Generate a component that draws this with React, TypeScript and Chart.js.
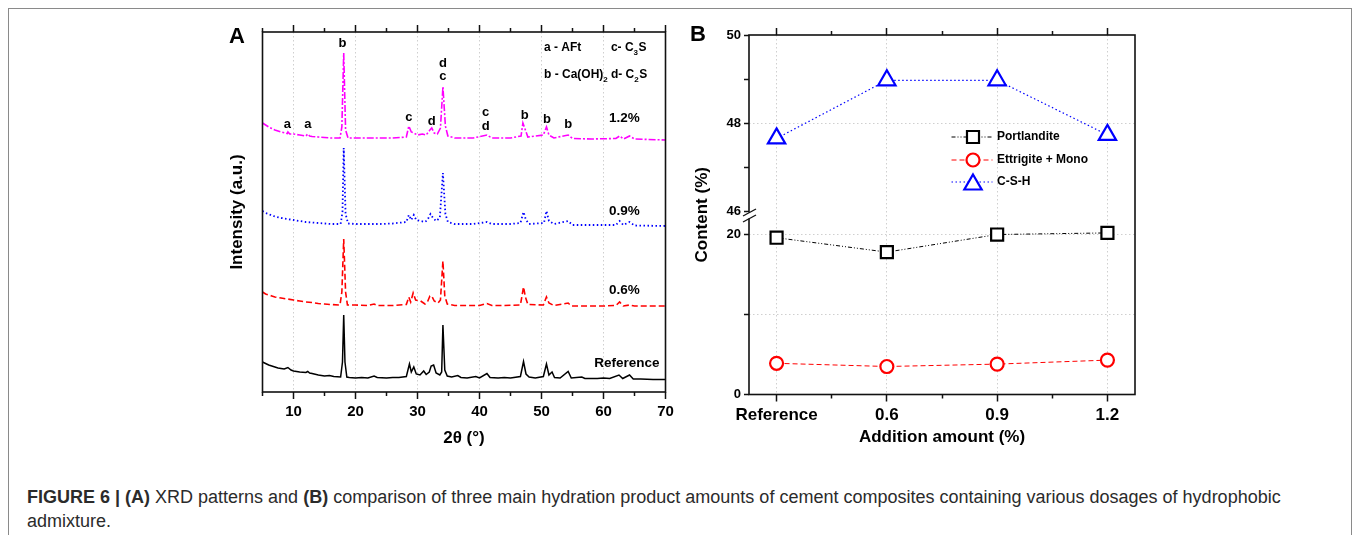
import React, { useEffect, useRef } from 'react';
import { Chart, registerables } from 'chart.js';

Chart.register(...registerables);

const FONT = "'Liberation Sans', Arial, Helvetica, sans-serif";

// ---------------- Panel A : XRD patterns ----------------
const XRD_MAJOR_TICKS = [10, 20, 30, 40, 50, 60, 70];
const XRD_MINOR_TICKS = [5, 15, 25, 35, 45, 55, 65];

// [2θ, intensity (a.u.)]
const PATTERN_REFERENCE: number[][] = [
  [5, 30], [5.5, 28.5], [6, 27], [6.5, 26], [7, 25], [7.5, 24], [8, 23.5], [8.5, 23], [9.1, 24.5], [9.6, 22],
  [10, 21], [11, 20], [12, 19.5], [12.3, 20.5], [12.6, 19], [13, 18.5], [14, 17], [15, 16], [15.8, 16.5], [16.5, 15.5],
  [17.6, 15], [17.9, 30], [18.1, 77], [18.3, 30], [18.6, 15], [19, 14.5], [20, 14], [21, 14.5], [22, 14], [23, 16],
  [23.5, 14.5], [25, 14], [26, 14.5], [27, 14.5], [28.2, 15.5], [28.7, 28], [29.0, 20], [29.4, 25], [29.8, 18], [30.4, 17],
  [31.0, 21], [31.4, 17.5], [31.9, 20], [32.2, 26], [32.6, 27], [33.0, 19], [33.6, 17], [33.9, 20], [34.1, 67], [34.4, 22],
  [34.8, 16], [35.5, 15], [36.5, 16.5], [37, 14.5], [38, 14], [39.4, 15.5], [40, 14], [41.2, 18.5], [41.7, 14.5], [43, 14],
  [44, 14.5], [45, 14], [46.6, 15.5], [47.1, 30.5], [47.5, 18], [48, 15], [49, 14], [50.3, 15.5], [50.8, 28], [51.2, 17],
  [51.7, 20], [52.1, 14.5], [53, 14], [54.3, 20.5], [54.8, 14], [56.5, 15], [57, 13.5], [59, 13.5], [60, 14], [61, 13.5],
  [62.5, 17], [63.1, 13.5], [64.2, 17], [64.8, 13], [66, 13], [68, 12.5], [70, 12.5],
];

const PATTERN_06: number[][] = [
  [5, 100], [5.5, 98], [6, 97], [6.5, 96], [7, 95], [8, 94], [9, 93], [10, 92], [11, 91], [12, 90],
  [13, 89.5], [14, 88.5], [15, 88], [16, 87.5], [17.5, 87], [17.8, 100], [18.1, 153], [18.4, 100], [18.7, 87], [20, 87],
  [22, 86.5], [23, 88], [23.5, 86.5], [26, 86.5], [28.2, 87.5], [28.6, 95], [28.9, 90], [29.3, 99], [29.7, 92], [30.5, 91],
  [31.2, 88], [31.6, 90], [32.0, 96], [32.3, 96], [32.7, 91], [33.3, 89], [33.7, 92], [34.1, 131], [34.4, 96], [34.8, 88],
  [36, 86.5], [38, 86.5], [40, 86.5], [41.2, 88.5], [42, 86.5], [44, 86.5], [46.6, 87], [47.1, 105], [47.4, 95], [47.8, 87.5],
  [50.3, 87], [50.8, 95], [51.2, 89], [52, 86.5], [54.3, 89], [54.8, 86], [58, 86], [60, 86], [62.0, 86.5], [62.6, 90],
  [63.2, 86], [64.2, 87], [65, 86], [70, 86],
];

const PATTERN_09: number[][] = [
  [5, 181], [5.5, 179], [6, 178], [6.5, 176.5], [7, 175.5], [8, 174], [9, 173], [10, 172], [11, 171], [12, 170],
  [13, 169.5], [14, 169], [15, 168.5], [16, 168], [17.6, 168], [17.9, 180], [18.1, 244], [18.4, 178], [18.8, 168.5], [20, 168],
  [22, 168], [24, 168], [26, 168.5], [28.2, 170], [28.6, 177], [29.0, 172], [29.4, 177], [29.8, 172], [30.5, 171], [31.2, 170],
  [31.6, 172], [32.1, 178], [32.5, 174], [33.0, 171], [33.6, 174], [34.1, 219], [34.5, 178], [34.9, 170], [36, 168], [39, 168],
  [41.2, 170], [42, 168], [45, 168], [46.6, 169], [47.1, 180], [47.5, 172], [48, 168], [50.4, 169], [50.8, 181], [51.2, 171],
  [52, 168], [54.3, 171], [55, 167], [58, 167], [62.0, 167], [62.6, 171], [63.2, 167], [64.2, 170], [65, 166.5], [70, 166],
];

const PATTERN_12: number[][] = [
  [5, 269], [5.5, 267], [6, 265], [6.5, 263.5], [7, 262], [8, 260], [9, 258.5], [9.1, 260], [9.4, 258], [10, 258],
  [11, 257], [12, 256], [12.3, 258], [12.6, 256], [13, 255.5], [14, 255], [15, 254.5], [16, 254], [17.5, 254], [17.8, 265],
  [18.1, 339], [18.4, 262], [18.8, 254], [20, 254], [22, 254], [24, 254], [26, 254], [28.2, 255], [28.6, 266], [29.0, 260],
  [29.4, 259], [30, 257], [30.8, 258], [31.4, 257], [32.0, 262], [32.3, 264], [32.7, 259], [33.2, 258], [33.7, 264], [34.1, 305],
  [34.5, 266], [34.9, 256], [36, 254], [39, 254], [41.2, 257], [42, 254], [45, 254], [46.7, 256], [47.0, 269], [47.4, 262],
  [47.8, 255], [50.3, 257], [50.8, 265], [51.2, 257], [52, 254], [54.3, 257], [55, 253.5], [58, 253], [62.0, 253.5], [62.6, 256],
  [63.2, 253], [64.2, 256], [65, 253], [70, 252],
];

// phase letters placed at [2θ, a.u.]
const PEAK_LETTERS: [string, number, number][] = [
  ['a', 9.0, 268], ['a', 12.3, 268], ['b', 17.9, 349], ['c', 28.6, 275], ['d', 32.3, 271],
  ['d', 34.1, 329], ['c', 34.1, 316], ['c', 41.0, 280], ['d', 41.0, 266],
  ['b', 47.3, 277], ['b', 50.9, 273], ['b', 54.3, 268],
];

// phase key: text parts [text, isSubscript]
const PHASE_KEY: { parts: [string, boolean][]; x: number; y: number }[] = [
  { parts: [['a - AFt', false]], x: 50.4, y: 344 },
  { parts: [['c- C', false], ['3', true], ['S', false]], x: 61.2, y: 344 },
  { parts: [['b - Ca(OH)', false], ['2', true]], x: 50.4, y: 317 },
  { parts: [['d- C', false], ['2', true], ['S', false]], x: 61.2, y: 317 },
];

const PATTERN_NAMES: [string, number, number][] = [
  ['1.2%', 60.9, 274], ['0.9%', 60.9, 181], ['0.6%', 60.9, 102], ['Reference', 58.5, 29],
];

// ---------------- Panel B : hydration products ----------------
const DOSAGES = ['Reference', '0.6', '0.9', '1.2'];
const PORTLANDITE = [19.6, 17.8, 20.0, 20.2];
const ETTRINGITE_MONO = [3.9, 3.5, 3.8, 4.3];
const CSH = [47.65, 48.97, 48.97, 47.73];

const B_X_MAJOR = [0, 1, 2, 3];
const B_X_MINOR = [0.5, 1.5, 2.5];
const B_UPPER_TICKS = [46, 47, 48, 49, 50];
const B_UPPER_LABELED = [46, 48, 50];
const B_LOWER_TICKS = [0, 10, 20];
const B_LOWER_LABELED = [0, 20];

const GRID = '#cfcfcf';
const NONE = 'rgba(0,0,0,0)';

const setTicks = (vals: number[]) => (s: any) => {
  s.ticks = vals.map((v) => ({ value: v }));
};

const tickOnlyAxis = (position: string, min: number, max: number, vals: number[], weight: number, len: number, size: number) => ({
  type: 'linear',
  position,
  min,
  max,
  weight,
  afterBuildTicks: setTicks(vals),
  afterFit: (s: any) => {
    if (position === 'top' || position === 'bottom') s.height = size;
    else s.width = size;
  },
  ticks: { display: false },
  grid: { drawOnChartArea: false, tickLength: len, tickColor: '#111', tickWidth: 1.5 },
  border: { display: false },
});

const framePlugin = {
  id: 'frame',
  afterDraw(chart: any) {
    const { ctx, chartArea } = chart;
    const { left, top, right, bottom } = chartArea;
    ctx.save();
    ctx.strokeStyle = '#111';
    ctx.lineWidth = 1.6;
    ctx.strokeRect(left, top, right - left, bottom - top);
    ctx.restore();
  },
};

const xrdTextPlugin = {
  id: 'xrdText',
  afterDraw(chart: any) {
    const { ctx } = chart;
    const x = chart.scales.x;
    const y = chart.scales.y;
    ctx.save();
    ctx.fillStyle = '#000';
    ctx.textBaseline = 'middle';
    ctx.textAlign = 'center';
    ctx.font = `bold 13px ${FONT}`;
    PEAK_LETTERS.forEach(([t, vx, vy]) => ctx.fillText(t, x.getPixelForValue(vx), y.getPixelForValue(vy)));
    ctx.textAlign = 'left';
    PHASE_KEY.forEach((k) => {
      let px = x.getPixelForValue(k.x);
      const py = y.getPixelForValue(k.y);
      k.parts.forEach(([t, sub]) => {
        ctx.font = sub ? `bold 8px ${FONT}` : `bold 12px ${FONT}`;
        ctx.fillText(t, px, sub ? py + 5 : py);
        px += ctx.measureText(t).width + (sub ? 0.5 : 0);
      });
    });
    ctx.font = `bold 13.5px ${FONT}`;
    PATTERN_NAMES.forEach(([t, vx, vy]) => ctx.fillText(t, x.getPixelForValue(vx), y.getPixelForValue(vy)));
    ctx.font = `bold 22px ${FONT}`;
    ctx.textAlign = 'center';
    ctx.fillText('A', chart.chartArea.left - 25.5, chart.chartArea.top + 5);
    ctx.restore();
  },
};

const productsPlugin = {
  id: 'products',
  afterDraw(chart: any) {
    const { ctx, chartArea } = chart;
    const upper = chart.scales.yUpper;
    const axisX = chartArea.left;
    ctx.save();
    // axis break
    const yb = upper.bottom;
    ctx.fillStyle = '#fff';
    ctx.fillRect(axisX - 2, yb + 1.5, 4, 6);
    ctx.strokeStyle = '#111';
    ctx.lineWidth = 1.3;
    [yb + 1.5, yb + 7.5].forEach((yy) => {
      ctx.beginPath();
      ctx.moveTo(axisX - 6, yy + 3.5);
      ctx.lineTo(axisX + 7, yy - 3.5);
      ctx.stroke();
    });
    // legend
    const lx0 = chartArea.left + 202.5;
    const lx1 = chartArea.left + 243.5;
    const mx = chartArea.left + 224;
    const tx = chartArea.left + 248;
    const rows = [102, 125, 147];
    chart.data.datasets.forEach((ds: any, i: number) => {
      const yy = chartArea.top + rows[i];
      ctx.strokeStyle = ds.borderColor;
      ctx.lineWidth = ds.borderWidth;
      ctx.setLineDash(ds.borderDash || []);
      ctx.beginPath();
      ctx.moveTo(lx0, yy);
      ctx.lineTo(lx1, yy);
      ctx.stroke();
      ctx.setLineDash([]);
      ctx.lineWidth = ds.pointBorderWidth;
      ctx.fillStyle = '#fff';
      const r = ds.pointRadius;
      ctx.beginPath();
      if (ds.pointStyle === 'rect') {
        const h = r * Math.SQRT1_2;
        ctx.rect(mx - h, yy - h, 2 * h, 2 * h);
      } else if (ds.pointStyle === 'circle') {
        ctx.arc(mx, yy, r, 0, Math.PI * 2);
      } else {
        const c = yy + r * 0.25;
        ctx.moveTo(mx, c - r);
        ctx.lineTo(mx + r * Math.sin(Math.PI / 3), c + r / 2);
        ctx.lineTo(mx - r * Math.sin(Math.PI / 3), c + r / 2);
        ctx.closePath();
      }
      ctx.fill();
      ctx.stroke();
      ctx.fillStyle = '#000';
      ctx.font = `bold 12px ${FONT}`;
      ctx.textAlign = 'left';
      ctx.textBaseline = 'middle';
      ctx.fillText(ds.label, tx, yy);
    });
    // y title
    ctx.save();
    ctx.translate(chartArea.left - 47, (chartArea.top + chartArea.bottom) / 2);
    ctx.rotate(-Math.PI / 2);
    ctx.font = `bold 17px ${FONT}`;
    ctx.textAlign = 'center';
    ctx.textBaseline = 'middle';
    ctx.fillText('Content (%)', 0, 0);
    ctx.restore();
    // panel letter
    ctx.font = `bold 22px ${FONT}`;
    ctx.textAlign = 'center';
    ctx.textBaseline = 'middle';
    ctx.fillStyle = '#000';
    ctx.fillText('B', chartArea.left - 51, chartArea.top);
    ctx.restore();
  },
};

function XrdChart() {
  const ref = useRef<HTMLCanvasElement>(null);
  useEffect(() => {
    if (!ref.current) return;
    const mk = (d: number[][]) => d.map(([x, y]) => ({ x, y }));
    const chart = new Chart(ref.current, {
      type: 'line',
      data: {
        datasets: [
          { label: 'Reference', data: mk(PATTERN_REFERENCE), borderColor: '#000000', borderWidth: 1.5, pointRadius: 0 },
          { label: '0.6%', data: mk(PATTERN_06), borderColor: '#ff0000', borderWidth: 1.6, borderDash: [6, 3], pointRadius: 0 },
          { label: '0.9%', data: mk(PATTERN_09), borderColor: '#0000ff', borderWidth: 1.8, borderDash: [1.5, 2.5], pointRadius: 0 },
          { label: '1.2%', data: mk(PATTERN_12), borderColor: '#ff00ff', borderWidth: 1.6, borderDash: [7, 2, 2, 2], pointRadius: 0 },
        ],
      } as any,
      options: {
        animation: false,
        responsive: false,
        events: [],
        layout: { padding: { left: 0, right: 24.5, top: 24, bottom: 0 } },
        plugins: { legend: { display: false }, tooltip: { enabled: false } },
        elements: { line: { tension: 0 } },
        scales: {
          x: {
            type: 'linear',
            position: 'bottom',
            min: 5,
            max: 70,
            weight: 1,
            afterBuildTicks: setTicks(XRD_MAJOR_TICKS),
            afterFit: (s: any) => { s.height = 68; },
            ticks: { font: { family: FONT, size: 15, weight: 'bold' }, color: '#000', padding: 4, maxRotation: 0, autoSkip: false },
            grid: {
              color: (c: any) => (c.tick && c.tick.value < 70 ? GRID : NONE),
              lineWidth: 1,
              tickLength: 7,
              tickColor: '#111',
              tickWidth: 1.5,
            },
            border: { display: false, dash: [1.5, 2.5] },
            title: { display: true, text: '2θ (°)', color: '#000', font: { family: FONT, size: 17, weight: 'bold' }, padding: { top: 0, bottom: 11 } },
          },
          xMinor: tickOnlyAxis('bottom', 5, 70, XRD_MINOR_TICKS, 0, 4, 0),
          xTop: tickOnlyAxis('top', 5, 70, XRD_MAJOR_TICKS, 1, 7, 8),
          xTopMinor: tickOnlyAxis('top', 5, 70, XRD_MINOR_TICKS, 0, 4, 0),
          y: {
            type: 'linear',
            position: 'left',
            min: 0,
            max: 360,
            afterFit: (s: any) => { s.width = 52.5; },
            ticks: { display: false },
            grid: { display: false },
            border: { display: false },
            title: { display: true, text: 'Intensity (a.u.)', color: '#000', font: { family: FONT, size: 17, weight: 'bold' }, padding: { top: 16.8, bottom: 0 } },
          },
        },
      } as any,
      plugins: [framePlugin, xrdTextPlugin],
    });
    return () => chart.destroy();
  }, []);
  return <canvas ref={ref} width={480} height={460} style={{ position: 'absolute', left: 210, top: 0, width: 480, height: 460 }} />;
}

function ProductsChart() {
  const ref = useRef<HTMLCanvasElement>(null);
  useEffect(() => {
    if (!ref.current) return;
    const mk = (d: number[]) => d.map((y, i) => ({ x: i, y }));
    const chart = new Chart(ref.current, {
      type: 'line',
      data: {
        datasets: [
          { label: 'Portlandite', data: mk(PORTLANDITE), yAxisID: 'yLower', borderColor: '#000000', borderWidth: 1, borderDash: [4, 2, 1, 2, 1, 2],
            pointStyle: 'rect', pointRadius: 8.5, pointBorderWidth: 2.2, pointBackgroundColor: '#fff', pointBorderColor: '#000' },
          { label: 'Ettrigite + Mono', data: mk(ETTRINGITE_MONO), yAxisID: 'yLower', borderColor: '#ff0000', borderWidth: 1, borderDash: [5, 3],
            pointStyle: 'circle', pointRadius: 6.5, pointBorderWidth: 2.2, pointBackgroundColor: '#fff', pointBorderColor: '#ff0000' },
          { label: 'C-S-H', data: mk(CSH), yAxisID: 'yUpper', borderColor: '#0000ff', borderWidth: 1.2, borderDash: [1.5, 2.5],
            pointStyle: 'triangle', pointRadius: 10, pointBorderWidth: 2.2, pointBackgroundColor: '#fff', pointBorderColor: '#0000ff' },
        ],
      } as any,
      options: {
        animation: false,
        responsive: false,
        events: [],
        layout: { padding: { left: 0, right: 25, top: 27, bottom: 0 } },
        plugins: { legend: { display: false }, tooltip: { enabled: false } },
        elements: { line: { tension: 0 } },
        scales: {
          x: {
            type: 'linear',
            position: 'bottom',
            min: -0.25,
            max: 3.25,
            weight: 1,
            afterBuildTicks: setTicks(B_X_MAJOR),
            afterFit: (s: any) => { s.height = 65.5; },
            ticks: {
              font: { family: FONT, size: 17, weight: 'bold' }, color: '#000', padding: 4, maxRotation: 0, autoSkip: false,
              callback: (v: any) => DOSAGES[Math.round(v)] ?? '',
            },
            grid: { color: GRID, lineWidth: 1, tickLength: 7, tickColor: '#111', tickWidth: 1.5 },
            border: { display: false, dash: [1.5, 2.5] },
            title: { display: true, text: 'Addition amount (%)', color: '#000', font: { family: FONT, size: 17, weight: 'bold' }, padding: { top: 0, bottom: 12.8 } },
          },
          xMinor: tickOnlyAxis('bottom', -0.25, 3.25, B_X_MINOR, 0, 4, 0),
          xTop: tickOnlyAxis('top', -0.25, 3.25, B_X_MAJOR, 1, 7, 8),
          xTopMinor: tickOnlyAxis('top', -0.25, 3.25, B_X_MINOR, 0, 4, 0),
          yLower: {
            type: 'linear',
            position: 'left',
            stack: 'content',
            stackWeight: 183.5,
            min: 0,
            max: 22.94,
            afterBuildTicks: setTicks(B_LOWER_TICKS),
            afterFit: (s: any) => { s.width = 69; },
            ticks: {
              font: { family: FONT, size: 13, weight: 'bold' }, color: '#000', padding: 3,
              callback: (v: any) => (B_LOWER_LABELED.includes(v) ? String(v) : ''),
            },
            grid: { color: (c: any) => (c.tick && c.tick.value > 0 ? GRID : NONE), lineWidth: 1, tickLength: 5, tickColor: '#111', tickWidth: 1.5 },
            border: { display: false, dash: [1.5, 2.5] },
          },
          yUpper: {
            type: 'linear',
            position: 'left',
            stack: 'content',
            stackWeight: 176,
            min: 46,
            max: 50,
            afterBuildTicks: setTicks(B_UPPER_TICKS),
            afterFit: (s: any) => { s.width = 69; },
            ticks: {
              font: { family: FONT, size: 13, weight: 'bold' }, color: '#000', padding: 3,
              callback: (v: any) => (B_UPPER_LABELED.includes(v) ? String(v) : ''),
            },
            grid: { color: (c: any) => (c.tick && c.tick.value === 48 ? GRID : NONE), lineWidth: 1, tickLength: 5, tickColor: '#111', tickWidth: 1.5 },
            border: { display: false, dash: [1.5, 2.5] },
          },
        },
      } as any,
      plugins: [framePlugin, productsPlugin],
    });
    return () => chart.destroy();
  }, []);
  return <canvas ref={ref} width={480} height={460} style={{ position: 'absolute', left: 680, top: 0, width: 480, height: 460 }} />;
}

export default function App() {
  return (
    <div style={{ position: 'absolute', left: 0, top: 0, width: 1355, height: 535, overflow: 'hidden', background: '#fff' }}>
      <div style={{ position: 'absolute', left: 8, top: 8, width: 1342, height: 540, border: '1px solid #8a8a8a' }} />
      <XrdChart />
      <ProductsChart />
      <div style={{ position: 'absolute', left: 27, top: 485, fontFamily: FONT, fontSize: 18, lineHeight: '24px', color: '#2b2b2b', whiteSpace: 'nowrap' }}>
        <b>FIGURE 6 | (A)</b> XRD patterns and <b>(B)</b> comparison of three main hydration product amounts of cement composites containing various dosages of hydrophobic
        <br />
        admixture.
      </div>
    </div>
  );
}
